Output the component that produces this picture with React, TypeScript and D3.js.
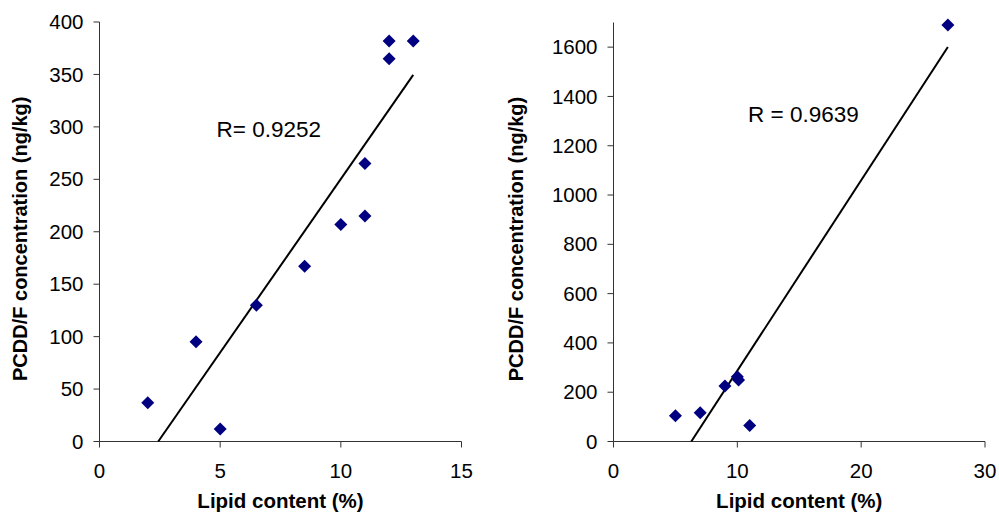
import React from "react";
import * as d3 from "d3";

// left panel: lipid content vs PCDD/F
const leftLipid = [2, 4, 5, 6.5, 8.5, 10, 11, 11, 12, 12, 13];
const leftConc = [37, 95, 12, 130, 167, 207, 215, 265, 365, 382, 382];
const leftXTicks = [0, 5, 10, 15];
const leftYTicks = [0, 50, 100, 150, 200, 250, 300, 350, 400];
const leftLabel = "R= 0.9252";

// right panel
const rightLipid = [5, 7, 9, 10, 10.1, 11, 27];
const rightConc = [104, 117, 225, 263, 250, 65, 1690];
const rightXTicks = [0, 10, 20, 30];
const rightYTicks = [0, 200, 400, 600, 800, 1000, 1200, 1400, 1600];
const rightLabel = "R = 0.9639";

const xTitle = "Lipid content (%)";
const yTitle = "PCDD/F concentration (ng/kg)";

const FONT = "'Liberation Sans', Arial, sans-serif";

type PanelProps = {
  xs: number[];
  ys: number[];
  xTicks: number[];
  yTicks: number[];
  xMax: number;
  yMax: number;
  left: number;
  right: number;
  top: number;
  bottom: number;
  label: string;
  labelX: number;
  labelY: number;
  yTitleX: number;
};

function Panel(p: PanelProps) {
  const x = d3.scaleLinear().domain([0, p.xMax]).range([p.left, p.right]);
  const y = d3.scaleLinear().domain([0, p.yMax]).range([p.bottom, p.top]);

  // least squares trendline, like the spreadsheet one
  const mx = d3.mean(p.xs)!;
  const my = d3.mean(p.ys)!;
  const sxy = d3.sum(p.xs, (v, i) => (v - mx) * (p.ys[i] - my));
  const sxx = d3.sum(p.xs, (v) => (v - mx) ** 2);
  const slope = sxy / sxx;
  const icpt = my - slope * mx;
  const x0 = Math.max(d3.min(p.xs)!, -icpt / slope);
  const x1 = d3.max(p.xs)!;
  const line = d3.line<number>()
    .x((v) => x(v))
    .y((v) => y(slope * v + icpt));

  const diamond = "M0,-6.5L6.5,0L0,6.5L-6.5,0Z";
  const axisColor = "#333";

  return (
    <g fontFamily={FONT}>
      {/* axes */}
      <line x1={p.left} x2={p.left} y1={p.top} y2={p.bottom} stroke={axisColor} />
      <line x1={p.left} x2={p.right} y1={p.bottom} y2={p.bottom} stroke={axisColor} />
      {p.yTicks.map((t) => (
        <g key={"y" + t}>
          <line x1={p.left - 6} x2={p.left} y1={y(t)} y2={y(t)} stroke={axisColor} />
          <text x={p.left - 16} y={y(t)} dy="0.35em" textAnchor="end" fontSize={20.5}>
            {t}
          </text>
        </g>
      ))}
      {p.xTicks.map((t) => (
        <g key={"x" + t}>
          <line x1={x(t)} x2={x(t)} y1={p.bottom} y2={p.bottom + 6} stroke={axisColor} />
          <text x={x(t)} y={p.bottom + 36} textAnchor="middle" fontSize={20.5}>
            {t}
          </text>
        </g>
      ))}

      <path d={line([x0, x1]) ?? ""} stroke="#000" strokeWidth={2} fill="none" />

      {p.xs.map((v, i) => (
        <path
          key={i}
          d={diamond}
          transform={`translate(${x(v)},${y(p.ys[i])})`}
          fill="#000080"
        />
      ))}

      <text x={p.labelX} y={p.labelY} fontSize={22.5}>
        {p.label}
      </text>

      <text
        x={(p.left + p.right) / 2}
        y={508}
        textAnchor="middle"
        fontSize={20.5}
        fontWeight="bold"
      >
        {xTitle}
      </text>
      <text
        transform={`translate(${p.yTitleX},${(p.top + p.bottom) / 2 + 7}) rotate(-90)`}
        textAnchor="middle"
        fontSize={20}
        fontWeight="bold"
      >
        {yTitle}
      </text>
    </g>
  );
}

export default function App() {
  return (
    <svg
      width={999}
      height={512}
      style={{ position: "absolute", left: 0, top: 0, background: "#fff" }}
    >
      <Panel
        xs={leftLipid}
        ys={leftConc}
        xTicks={leftXTicks}
        yTicks={leftYTicks}
        xMax={15}
        yMax={400}
        left={99.5}
        right={461.5}
        top={22}
        bottom={441.5}
        label={leftLabel}
        labelX={216.5}
        labelY={136.5}
        yTitleX={27}
      />
      <Panel
        xs={rightLipid}
        ys={rightConc}
        xTicks={rightXTicks}
        yTicks={rightYTicks}
        xMax={30}
        yMax={1700}
        left={613.5}
        right={985}
        top={22.5}
        bottom={441.5}
        label={rightLabel}
        labelX={748}
        labelY={121.5}
        yTitleX={523}
      />
    </svg>
  );
}
